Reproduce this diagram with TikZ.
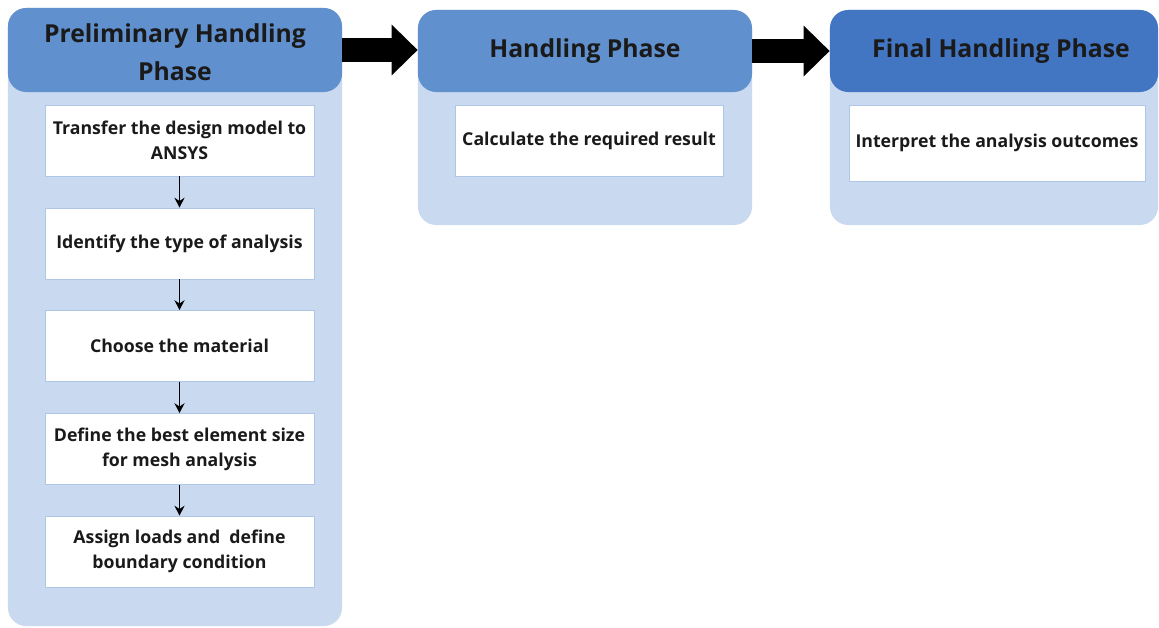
\documentclass[tikz,border=0pt]{standalone}
\usepackage{fontspec}
\setmainfont{Open Sans}
\usetikzlibrary{arrows.meta}
\definecolor{panelbg}{HTML}{C9D9EF}
\definecolor{headblue}{HTML}{6090CD}
\definecolor{headdark}{HTML}{4275C2}
\definecolor{boxline}{HTML}{AFC6E6}
\definecolor{inkblack}{HTML}{1A1A1A}
\tikzset{
  panel/.style={fill=panelbg,rounded corners=13pt,minimum width=8.35cm},
  head/.style={fill=headblue,rounded corners=13pt,minimum width=8.35cm,minimum height=2.05cm,
    align=center,text=inkblack,font=\fontsize{17.6}{27}\selectfont\bfseries},
  stepbox/.style={fill=white,draw=boxline,line width=0.4pt,minimum width=6.725cm,minimum height=1.775cm,
    align=center,text=inkblack,font=\fontsize{12.6}{17.7}\selectfont\bfseries},
  down/.style={-{Stealth[length=7pt,width=7pt]},line width=1.4pt,black},
  bigarrow/.style={line width=0.6cm,-{Triangle[length=0.65cm,width=1.23cm]},black}
}
\begin{document}
\begin{tikzpicture}[x=0.025cm,y=-0.025cm]
  \useasboundingbox (0,0) rectangle (1159,628);
  % panels
  \node[panel,minimum height=15.45cm] (p1) at (175,317) {};
  \node[panel,minimum height=5.375cm] (p2) at (585,117.5) {};
  \node[panel,minimum width=8.2cm,minimum height=5.375cm] (p3) at (994,117.5) {};
  % headers
  \node[head,minimum height=2.1cm] (h1) at (175,50) {};
  \node[align=center,text=inkblack,font=\fontsize{17.6}{27}\selectfont\bfseries] (t1) at (175,52) {Preliminary Handling\\Phase};
  \node[head] (h2) at (585,51) {Handling Phase};
  \node[head,fill=headdark,minimum width=8.2cm] (h3) at (994,51) {};
  \node[text=inkblack,font=\fontsize{17.6}{27}\selectfont\bfseries] (t3) at (1001,51) {Final Handling Phase};
  % steps
  \node[stepbox] (s1) at (179.5,140.5) {Transfer the design model to\\ANSYS};
  \node[stepbox] (s2) at (179.5,243.5) {Identify the type of analysis};
  \node[stepbox] (s3) at (179.5,346) {Choose the material};
  \node[stepbox] (s4) at (179.5,449) {Define the best element size\\for mesh analysis};
  \node[stepbox] (s5) at (179.5,551.5) {Assign loads and\ \ define\\boundary condition};
  \node[stepbox,minimum width=6.7cm] (c1) at (589,140.5) {Calculate the required result};
  \node[stepbox,minimum width=7.4cm,minimum height=1.9cm] (f1) at (997,143) {Interpret the analysis outcomes};
  % connectors
  \foreach \a/\b in {s1/s2,s2/s3,s3/s4,s4/s5}
    \draw[down] (\a.south) -- (\b.north);
  \draw[bigarrow] (h1.east) -- (h1.east -| h2.west);
  \draw[bigarrow] (h2.east) -- (h2.east -| h3.west);
\end{tikzpicture}
\end{document}
